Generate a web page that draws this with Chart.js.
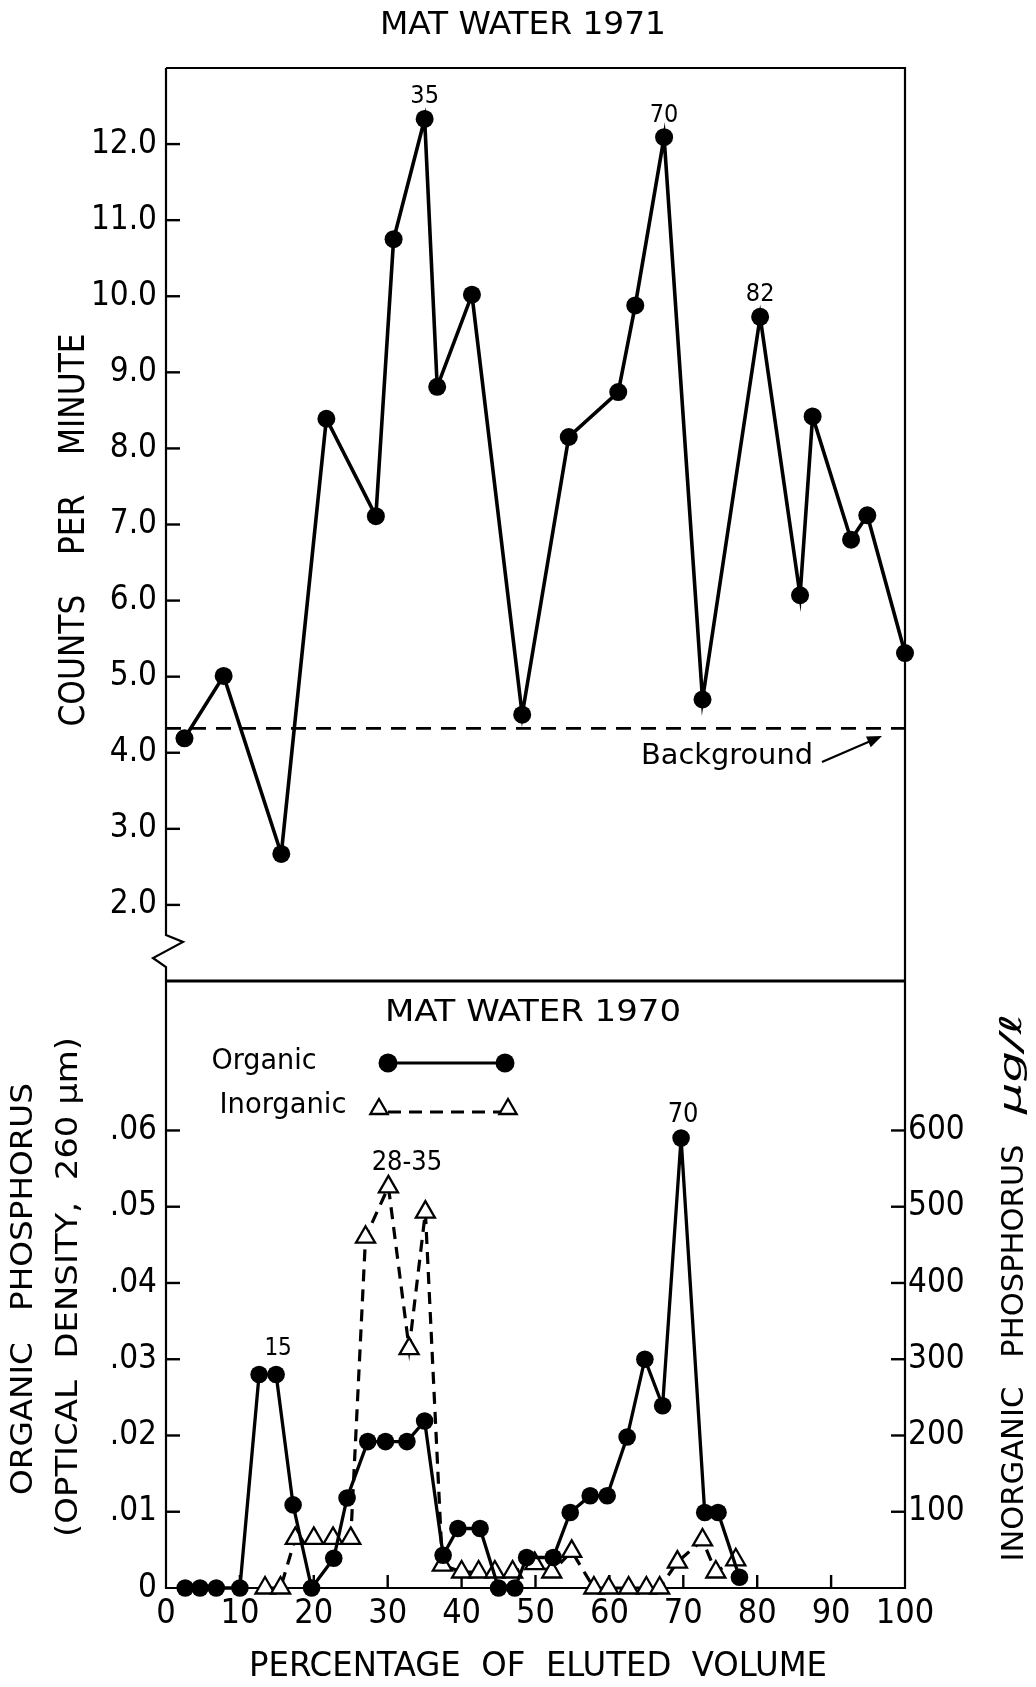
<!DOCTYPE html>
<html>
<head>
<meta charset="utf-8">
<script src="https://cdn.jsdelivr.net/npm/chart.js@4.4.1/dist/chart.umd.min.js"></script>
<style>
  html, body { margin: 0; padding: 0; background: #fff; }
  #wrap { position: relative; width: 1036px; height: 1687px; }
  canvas { position: absolute; left: 0; top: 0; }
</style>
</head>
<body>
<div id="wrap">
  <canvas id="bottom" width="1036" height="1687"></canvas>
  <canvas id="top" width="1036" height="1687"></canvas>
</div>
<script>
const FONT = "'DejaVu Sans Condensed', 'Liberation Sans Narrow', 'DejaVu Sans', sans-serif";

// --- 1971: counts per minute vs % of eluted volume ---
const topX   = [2.5, 7.8, 15.6, 21.7, 28.4, 30.8, 35.0, 36.7, 41.4, 48.2, 54.5, 61.2, 63.5, 67.4, 72.6, 80.4, 85.8, 87.5, 92.7, 94.9, 100];
const topCpm = [4.19, 5.01, 2.67, 8.39, 7.11, 10.75, 12.33, 8.81, 10.02, 4.50, 8.15, 8.74, 9.88, 12.09, 4.70, 9.73, 6.07, 8.42, 6.80, 7.12, 5.31];
const background = 4.32;
const topPeaks = [{ i: 6, text: '35' }, { i: 13, text: '70' }, { i: 15, text: '82' }];
const cpmTicks = [2, 3, 4, 5, 6, 7, 8, 9, 10, 11, 12];

// --- 1970: organic (optical density) and inorganic (ug/l) phosphorus ---
const organicX  = [2.6, 4.6, 6.8, 10.0, 12.6, 14.9, 17.2, 19.7, 22.7, 24.5, 27.3, 29.7, 32.6, 35.0, 37.5, 39.5, 42.5, 45.0, 47.2, 48.8, 52.4, 54.7, 57.4, 59.7, 62.4, 64.8, 67.2, 69.7, 72.9, 74.7, 77.6];
const organicOD = [0, 0, 0, 0, 0.028, 0.028, 0.0109, 0, 0.0039, 0.0118, 0.0192, 0.0192, 0.0192, 0.0219, 0.0043, 0.0078, 0.0078, 0, 0, 0.004, 0.004, 0.0099, 0.0121, 0.0121, 0.0198, 0.030, 0.0239, 0.059, 0.0099, 0.0099, 0.0014];
const inorganicX  = [13.4, 15.5, 17.5, 20.0, 22.6, 25.0, 27.0, 30.1, 32.9, 35.1, 37.4, 40.0, 42.3, 44.5, 46.9, 49.9, 52.2, 54.9, 57.9, 59.9, 62.6, 65.0, 66.8, 69.2, 72.6, 74.4, 77.1];
const inorganicUg = [0, 0, 65, 65, 65, 65, 460, 526, 314, 493, 30, 21, 21, 21, 21, 32, 21, 48, 0, 0, 0, 0, 0, 34, 63, 21, 37];
const odTicks  = [0, 0.01, 0.02, 0.03, 0.04, 0.05, 0.06];
const ugTicks  = [100, 200, 300, 400, 500, 600];
const pctTicks = [0, 10, 20, 30, 40, 50, 60, 70, 80, 90, 100];
const odMax = 0.0796;          // right axis is OD x 10000
const ugMax = odMax * 10000;

// page layout
const W = 1036, H = 1687;
const LEFT = 166, RIGHT = 905, TOP = 68, SPLIT = 981, BASE = 1588;

Chart.defaults.font.family = FONT;
Chart.defaults.color = '#000';

// centred text, optionally squeezed/stretched to a given width
function txt(ctx, s, x, y, size, width, rot, italic) {
  ctx.save();
  ctx.translate(x, y);
  if (rot) ctx.rotate(rot);
  ctx.font = (italic ? 'italic ' : '') + size + 'px ' + FONT;
  ctx.textAlign = 'center';
  ctx.textBaseline = 'middle';
  if (width) ctx.scale(width / ctx.measureText(s).width, 1);
  ctx.fillStyle = '#000';
  ctx.fillText(s, 0, 0);
  ctx.restore();
}

function line(ctx, pts, w, dash) {
  ctx.save();
  ctx.lineWidth = w;
  ctx.strokeStyle = '#000';
  ctx.setLineDash(dash || []);
  ctx.beginPath();
  pts.forEach((p, k) => k ? ctx.lineTo(p[0], p[1]) : ctx.moveTo(p[0], p[1]));
  ctx.stroke();
  ctx.restore();
}

function triangle(ctx, px, py, r) {
  ctx.save();
  ctx.fillStyle = '#fff';
  ctx.strokeStyle = '#000';
  ctx.lineWidth = 2.3;
  ctx.beginPath();
  for (let k = 0; k < 3; k++) {
    const a = k * 2 * Math.PI / 3;
    const vx = px + Math.sin(a) * r, vy = py - Math.cos(a) * r;
    k ? ctx.lineTo(vx, vy) : ctx.moveTo(vx, vy);
  }
  ctx.closePath();
  ctx.fill();
  ctx.stroke();
  ctx.restore();
}

// fixed tick values instead of the auto-generated ones
const fixTicks = vals => s => { s.ticks = vals.map(v => ({ value: v })); };

const topDecor = {
  id: 'topDecor',
  beforeDatasetsDraw(chart) {
    const { ctx, chartArea: a, scales: { y } } = chart;
    // frame, with the axis break near the bottom of the left side
    line(ctx, [[a.left, a.top], [a.right, a.top], [a.right, a.bottom]], 2.2);
    line(ctx, [[a.left, a.top], [a.left, a.bottom - 46], [a.left + 17, a.bottom - 39],
               [a.left - 13, a.bottom - 23], [a.left, a.bottom - 14], [a.left, a.bottom]], 2.2);
    line(ctx, [[a.left - 1, a.bottom], [a.right + 1, a.bottom]], 3);
    cpmTicks.forEach(v => {
      const py = y.getPixelForValue(v);
      line(ctx, [[a.left, py], [a.left + 14, py]], 2.4);
    });
  },
  afterDraw(chart) {
    const { ctx, scales: { x, y } } = chart;
    txt(ctx, 'MAT WATER 1971', 523, 26, 32, 286);
    txt(ctx, 'COUNTS    PER    MINUTE', 75, 530, 36, 393, -Math.PI / 2);
    topPeaks.forEach(p => {
      txt(ctx, p.text, x.getPixelForValue(topX[p.i]), y.getPixelForValue(topCpm[p.i]) - 22, 25);
    });
    txt(ctx, 'Background', 727, 757, 28, 172);
    // arrow pointing at the background line
    const x0 = 822, y0 = 762, x1 = 882, y1 = 736;
    const ang = Math.atan2(y1 - y0, x1 - x0);
    line(ctx, [[x0, y0], [x1 - 8 * Math.cos(ang), y1 - 8 * Math.sin(ang)]], 2.2);
    ctx.save();
    ctx.fillStyle = '#000';
    ctx.beginPath();
    ctx.moveTo(x1, y1);
    ctx.lineTo(x1 - 16 * Math.cos(ang - 0.38), y1 - 16 * Math.sin(ang - 0.38));
    ctx.lineTo(x1 - 16 * Math.cos(ang + 0.38), y1 - 16 * Math.sin(ang + 0.38));
    ctx.closePath();
    ctx.fill();
    ctx.restore();
  }
};

const bottomDecor = {
  id: 'bottomDecor',
  beforeDatasetsDraw(chart) {
    const { ctx, chartArea: a, scales: { x, y, y2 } } = chart;
    line(ctx, [[a.left, a.top], [a.left, a.bottom], [a.right, a.bottom], [a.right, a.top]], 2.2);
    odTicks.slice(1).forEach(v => {
      const py = y.getPixelForValue(v);
      line(ctx, [[a.left, py], [a.left + 14, py]], 2.4);
    });
    ugTicks.forEach(v => {
      const py = y2.getPixelForValue(v);
      line(ctx, [[a.right, py], [a.right - 14, py]], 2.4);
    });
    pctTicks.slice(1, -1).forEach(v => {
      const px = x.getPixelForValue(v);
      line(ctx, [[px, a.bottom], [px, a.bottom - 13]], 2.4);
    });
  },
  afterDraw(chart) {
    const { ctx, scales: { x, y, y2 } } = chart;
    txt(ctx, 'MAT WATER 1970', 533, 1013, 30, 296);

    // legend
    txt(ctx, 'Organic', 264, 1062, 28, 105);
    txt(ctx, 'Inorganic', 283, 1106, 28, 127);
    line(ctx, [[388, 1063], [505, 1063]], 3.2);
    ctx.save();
    ctx.fillStyle = '#000';
    [388, 505].forEach(px => { ctx.beginPath(); ctx.arc(px, 1063, 9.5, 0, Math.PI * 2); ctx.fill(); });
    ctx.restore();
    line(ctx, [[388, 1112], [500, 1112]], 3.2, [13, 8]);
    [379, 508].forEach(px => triangle(ctx, px, 1109, 10));

    // axis titles
    txt(ctx, 'ORGANIC   PHOSPHORUS', 24, 1289, 30, 412, -Math.PI / 2);
    txt(ctx, '(OPTICAL  DENSITY,  260 \u00b5m)', 69, 1287, 30, 500, -Math.PI / 2);
    txt(ctx, 'INORGANIC   PHOSPHORUS', 1015, 1353, 31, 417, -Math.PI / 2);
    txt(ctx, '\u00b5g/\u2113', 1013, 1064, 30, 100, -Math.PI / 2, true);
    txt(ctx, 'PERCENTAGE  OF  ELUTED  VOLUME', 538, 1667, 34, 578);

    // peak labels
    txt(ctx, '15', x.getPixelForValue(organicX[5]) + 2, y.getPixelForValue(organicOD[5]) - 26, 24);
    const ix = (x.getPixelForValue(inorganicX[7]) + x.getPixelForValue(inorganicX[9])) / 2;
    txt(ctx, '28-35', ix, y2.getPixelForValue(inorganicUg[7]) - 24, 27);
    txt(ctx, '70', x.getPixelForValue(organicX[27]) + 2, y.getPixelForValue(organicOD[27]) - 23, 27);
  }
};

const tickFont = { family: FONT, size: 33 };

// upper panel
new Chart(document.getElementById('top'), {
  type: 'line',
  data: {
    datasets: [
      {
        data: topX.map((v, i) => ({ x: v, y: topCpm[i] })),
        borderColor: '#000', borderWidth: 3.6, tension: 0,
        pointRadius: 9, pointBackgroundColor: '#000', pointBorderWidth: 0,
        clip: false
      },
      {
        data: [{ x: 0, y: background }, { x: 100, y: background }],
        borderColor: '#000', borderWidth: 2.6, borderDash: [15, 10],
        pointRadius: 0, clip: false
      }
    ]
  },
  options: {
    responsive: false, animation: false, events: [],
    layout: { padding: { left: 0, right: W - RIGHT, top: TOP, bottom: H - SPLIT } },
    plugins: { legend: { display: false }, tooltip: { enabled: false } },
    scales: {
      x: { type: 'linear', min: 0, max: 100, display: false },
      y: {
        min: 1, max: 13,
        afterFit: s => { s.width = LEFT; },
        afterBuildTicks: fixTicks(cpmTicks),
        grid: { display: false, drawTicks: false },
        border: { display: false },
        ticks: { padding: 9, color: '#000', font: tickFont, callback: v => v.toFixed(1) }
      }
    }
  },
  plugins: [topDecor]
});

// lower panel
new Chart(document.getElementById('bottom'), {
  type: 'line',
  data: {
    datasets: [
      {
        label: 'Organic',
        yAxisID: 'y',
        data: organicX.map((v, i) => ({ x: v, y: organicOD[i] })),
        borderColor: '#000', borderWidth: 3.3, tension: 0,
        pointRadius: 8.8, pointBackgroundColor: '#000', pointBorderWidth: 0,
        clip: false
      },
      {
        label: 'Inorganic',
        yAxisID: 'y2',
        data: inorganicX.map((v, i) => ({ x: v, y: inorganicUg[i] })),
        borderColor: '#000', borderWidth: 3.2, borderDash: [12, 8], tension: 0,
        pointStyle: 'triangle', pointRadius: 11,
        pointBackgroundColor: '#fff', pointBorderColor: '#000', pointBorderWidth: 2.3,
        clip: false
      }
    ]
  },
  options: {
    responsive: false, animation: false, events: [],
    layout: { padding: { left: 0, right: 0, top: SPLIT, bottom: 0 } },
    plugins: { legend: { display: false }, tooltip: { enabled: false } },
    scales: {
      x: {
        type: 'linear', min: 0, max: 100,
        afterFit: s => { s.height = H - BASE; },
        afterBuildTicks: fixTicks(pctTicks),
        grid: { display: false, drawTicks: false },
        border: { display: false },
        ticks: { padding: 6, maxRotation: 0, color: '#000', font: { family: FONT, size: 34 } }
      },
      y: {
        position: 'left', min: 0, max: odMax,
        afterFit: s => { s.width = LEFT; },
        afterBuildTicks: fixTicks(odTicks),
        grid: { display: false, drawTicks: false },
        border: { display: false },
        ticks: {
          padding: 9, color: '#000', font: tickFont,
          callback: v => v === 0 ? '0' : '.' + v.toFixed(2).slice(2)
        }
      },
      y2: {
        position: 'right', min: 0, max: ugMax,
        afterFit: s => { s.width = W - RIGHT; },
        afterBuildTicks: fixTicks(ugTicks),
        grid: { display: false, drawTicks: false },
        border: { display: false },
        ticks: { padding: 3, color: '#000', font: tickFont, callback: v => String(v) }
      }
    }
  },
  plugins: [bottomDecor]
});
</script>
</body>
</html>
